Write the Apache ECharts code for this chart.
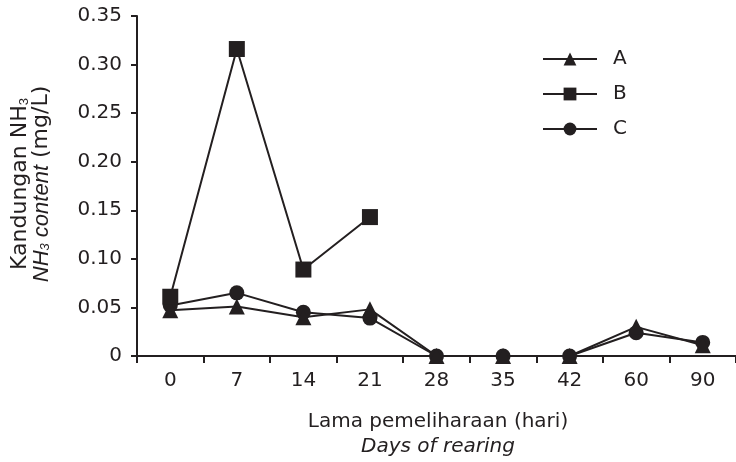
<!DOCTYPE html>
<html>
<head>
<meta charset="utf-8">
<script src="https://cdn.jsdelivr.net/npm/echarts@6/dist/echarts.min.js"></script>
<style>
  html, body { margin: 0; padding: 0; background: #fff; }
  #chart { width: 736px; height: 462px; }
</style>
</head>
<body>
<div id="chart"></div>
<script>
// Days of rearing (category axis)
var days = ['0', '7', '14', '21', '28', '35', '42', '60', '90'];

// NH3 content (mg/L) per treatment
var seriesA = [0.047, 0.051, 0.040, 0.048, 0, 0, 0, 0.030, 0.011];
var seriesB = [0.061, 0.316, 0.089, 0.143, null, null, null, null, null];
var seriesC = [0.052, 0.065, 0.045, 0.039, 0, 0, 0, 0.024, 0.014];

var seriesNames = ['A', 'B', 'C'];
var yTicks = [0, 0.05, 0.10, 0.15, 0.20, 0.25, 0.30, 0.35];

var INK = '#231f20';
var FONT = '"DejaVu Sans", "Open Sans", sans-serif';

var chart = echarts.init(document.getElementById('chart'));

function lineSeries(name, data, symbol, size) {
  return {
    name: name,
    type: 'line',
    data: data,
    symbol: symbol,
    symbolSize: size,
    connectNulls: false,
    lineStyle: { color: INK, width: 2 },
    itemStyle: { color: INK },
    animation: false
  };
}

chart.setOption({
  animation: false,
  textStyle: { fontFamily: FONT, color: INK },
  grid: { left: 137, top: 16, width: 604, height: 340 },
  legend: {
    orient: 'vertical',
    left: 537,
    top: 44,
    itemWidth: 54,
    itemHeight: 16,
    itemGap: 15,
    data: seriesNames,
    textStyle: { fontFamily: FONT, fontSize: 20, color: INK, padding: [0, 0, 0, 11] }
  },
  xAxis: {
    type: 'category',
    data: days,
    boundaryGap: true,
    axisLine: { lineStyle: { color: INK, width: 2 } },
    axisTick: { show: true, length: 7, lineStyle: { color: INK, width: 2 } },
    axisLabel: { color: INK, fontSize: 20, margin: 15, fontFamily: FONT }
  },
  yAxis: {
    type: 'value',
    min: yTicks[0],
    max: yTicks[yTicks.length - 1],
    interval: 0.05,
    splitLine: { show: false },
    axisLine: { show: true, lineStyle: { color: INK, width: 2 } },
    axisTick: { show: true, length: 6, lineStyle: { color: INK, width: 2 } },
    axisLabel: {
      color: INK, fontSize: 20, margin: 15, fontFamily: FONT,
      formatter: function (v) { return v === 0 ? '0' : v.toFixed(2); }
    }
  },
  graphic: [
    {
      type: 'text',
      x: 31, y: 184,
      rotation: Math.PI / 2,
      style: {
        text: 'Kandungan NH{sub|3}\n{it|NH}{itsub|3}{it| content} (mg/L)',
        fontFamily: FONT,
        fontSize: 22,
        fill: INK,
        align: 'center',
        verticalAlign: 'middle',
        lineHeight: 21,
        rich: {
          sub: { fontSize: 13, verticalAlign: 'bottom', lineHeight: 21, padding: [10, 0, 0, 0] },
          it: { fontStyle: 'italic', fontSize: 22, lineHeight: 21 },
          itsub: { fontStyle: 'italic', fontSize: 13, verticalAlign: 'bottom', lineHeight: 21, padding: [10, 0, 0, 0] }
        }
      }
    },
    {
      type: 'text',
      x: 438, y: 422,
      style: {
        text: 'Lama pemeliharaan (hari)',
        fontFamily: FONT, fontSize: 20, fill: INK,
        align: 'center', verticalAlign: 'middle'
      }
    },
    {
      type: 'text',
      x: 438, y: 447,
      style: {
        text: 'Days of rearing',
        fontFamily: FONT, fontSize: 20, fontStyle: 'italic', fill: INK,
        align: 'center', verticalAlign: 'middle'
      }
    }
  ],
  series: [
    lineSeries(seriesNames[2], seriesC, 'circle', 15),
    lineSeries(seriesNames[0], seriesA, 'triangle', 16),
    lineSeries(seriesNames[1], seriesB, 'rect', 16)
  ]
});
</script>
</body>
</html>
